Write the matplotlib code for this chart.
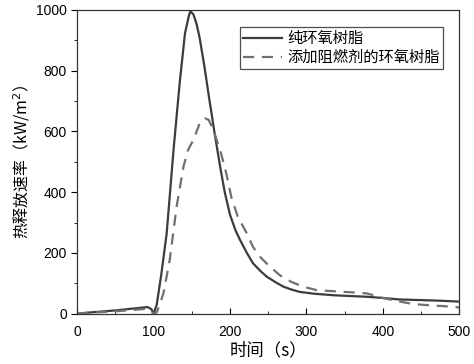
import numpy as np
import matplotlib.pyplot as plt
from matplotlib.ticker import MultipleLocator

plt.rcParams['font.family'] = ['Noto Sans CJK SC', 'DejaVu Sans']

# pure epoxy resin
t_pure = [0, 10, 20, 35, 50, 65, 80, 92, 97, 100, 104, 110, 117, 126, 134, 141, 146, 148,
          152, 156, 160, 166, 173, 180, 187, 193, 200, 207, 213, 222, 230, 240, 248, 260,
          270, 280, 291, 310, 335, 360, 379, 400, 422, 450, 475, 500]
hrr_pure = [0, 3, 5, 8, 11, 15, 19, 22, 15, 0, 30, 130, 264, 539, 758, 923, 980, 995,
            985, 955, 910, 820, 703, 590, 484, 400, 325, 275, 243, 200, 166, 140, 122, 103,
            89, 80, 72, 66, 61, 58, 56, 52, 47, 45, 43, 40]

# epoxy with flame retardant
t_fr = [0, 10, 20, 35, 50, 65, 80, 90, 95, 100, 104, 108, 113, 121, 130, 139, 145, 152,
        160, 167, 172, 178, 187, 195, 202, 210, 222, 230, 239, 250, 265, 280, 291, 302,
        313, 330, 350, 379, 400, 422, 440, 460, 480, 500]
hrr_fr = [0, 2, 4, 6, 8, 11, 14, 16, 10, 0, 5, 30, 70, 177, 352, 484, 539, 572,
          625, 643, 638, 605, 539, 462, 380, 320, 264, 220, 188, 160, 127, 105, 94, 85,
          78, 75, 72, 67, 52, 40, 32, 28, 25, 21]

fig = plt.figure(figsize=(4.74, 3.64), dpi=100)
ax = fig.add_axes([0.163, 0.138, 0.806, 0.835])

ax.plot(t_pure, hrr_pure, color='#3c3c3c', lw=1.6, label='纯环氧树脂')
ax.plot(t_fr, hrr_fr, color='#707070', lw=1.6, ls=(0, (5, 3.5)), label='添加阻燃剂的环氧树脂')

ax.set_xlim(0, 500)
ax.set_ylim(0, 1000)
ax.xaxis.set_major_locator(MultipleLocator(100))
ax.xaxis.set_minor_locator(MultipleLocator(50))
ax.yaxis.set_major_locator(MultipleLocator(200))
ax.yaxis.set_minor_locator(MultipleLocator(100))
ax.tick_params(axis='x', which='both', direction='in', top=False, labelsize=10, pad=8)
ax.tick_params(axis='x', which='major', length=4)
ax.tick_params(axis='x', which='minor', length=2.5)
ax.tick_params(axis='y', which='both', direction='out', right=False, labelsize=10)
ax.tick_params(axis='y', which='major', length=4)
ax.tick_params(axis='y', which='minor', length=2.5)
for lab in ax.get_xticklabels() + ax.get_yticklabels():
    lab.set_family(['Liberation Sans', 'DejaVu Sans'])
for s in ax.spines.values():
    s.set_color('#333333')
    s.set_linewidth(0.9)

ax.set_xlabel('时间（s）', fontsize=12.5, labelpad=2)
ax.set_ylabel('热释放速率（kW/m$^2$）', fontsize=11.5, labelpad=3)

leg = ax.legend(loc='upper right', bbox_to_anchor=(0.958, 0.944), fontsize=11,
                frameon=True, fancybox=False, borderpad=0.2, labelspacing=0.15,
                handlelength=2.6, handletextpad=0.35, borderaxespad=0)
leg.get_frame().set_edgecolor('#222222')
leg.get_frame().set_linewidth(0.9)

fig.savefig('out.png', dpi=100)
